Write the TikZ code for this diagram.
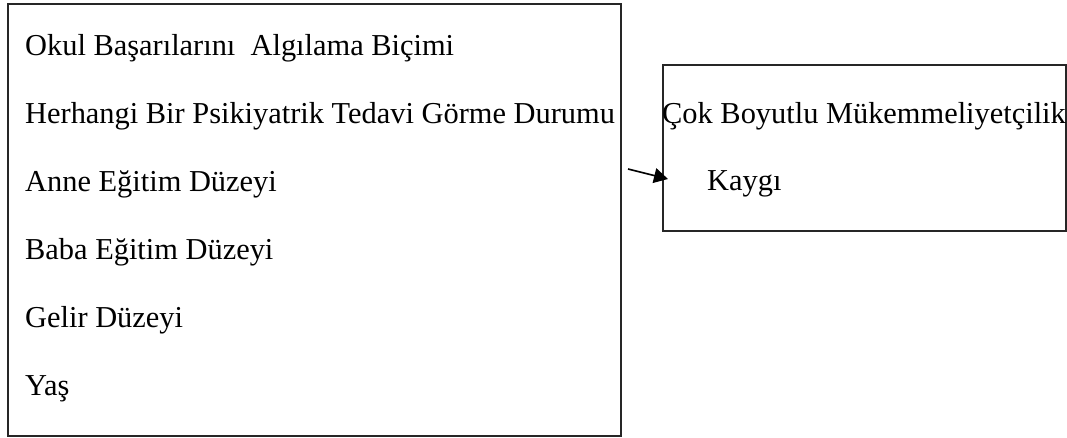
\documentclass[tikz,border=0pt]{standalone}
\usepackage{fontspec}
\setmainfont{Liberation Serif}
\usetikzlibrary{arrows.meta}
\tikzset{
  box/.style={draw=black!85, line width=1.6pt, inner sep=0pt, anchor=north west},
  lbl/.style={anchor=base west, inner sep=0pt, font=\fontsize{30.4}{36}\selectfont, text=black},
  conn/.style={line width=1.6pt, -{Triangle[length=14pt,width=15pt]}}
}
\begin{document}
\begin{tikzpicture}[x=1pt,y=-1pt]
\useasboundingbox (0,0) rectangle (1067,437);
\node[box, minimum width=613pt, minimum height=432pt] (L) at (7,3) {};
\node[box, minimum width=403pt, minimum height=166pt] (R) at (662,64) {};
\node[lbl] (t1) at (25,55) {Okul Başarılarını\ \ Algılama Biçimi};
\node[lbl] (t2) at (25,123) {Herhangi Bir Psikiyatrik Tedavi Görme Durumu};
\node[lbl] (t3) at (25,191) {Anne Eğitim Düzeyi};
\node[lbl] (t4) at (25,259) {Baba Eğitim Düzeyi};
\node[lbl] (t5) at (25,327) {Gelir Düzeyi};
\node[lbl] (t6) at (25,395) {Yaş};
\node[lbl] (r1) at (662,123) {Çok Boyutlu Mükemmeliyetçilik};
\node[lbl] (r2) at (707,190) {Kaygı};
\coordinate (a0) at (628,169);
\coordinate (a1) at (668,179);
\draw[conn] (a0) -- (a1);
\end{tikzpicture}
\end{document}
